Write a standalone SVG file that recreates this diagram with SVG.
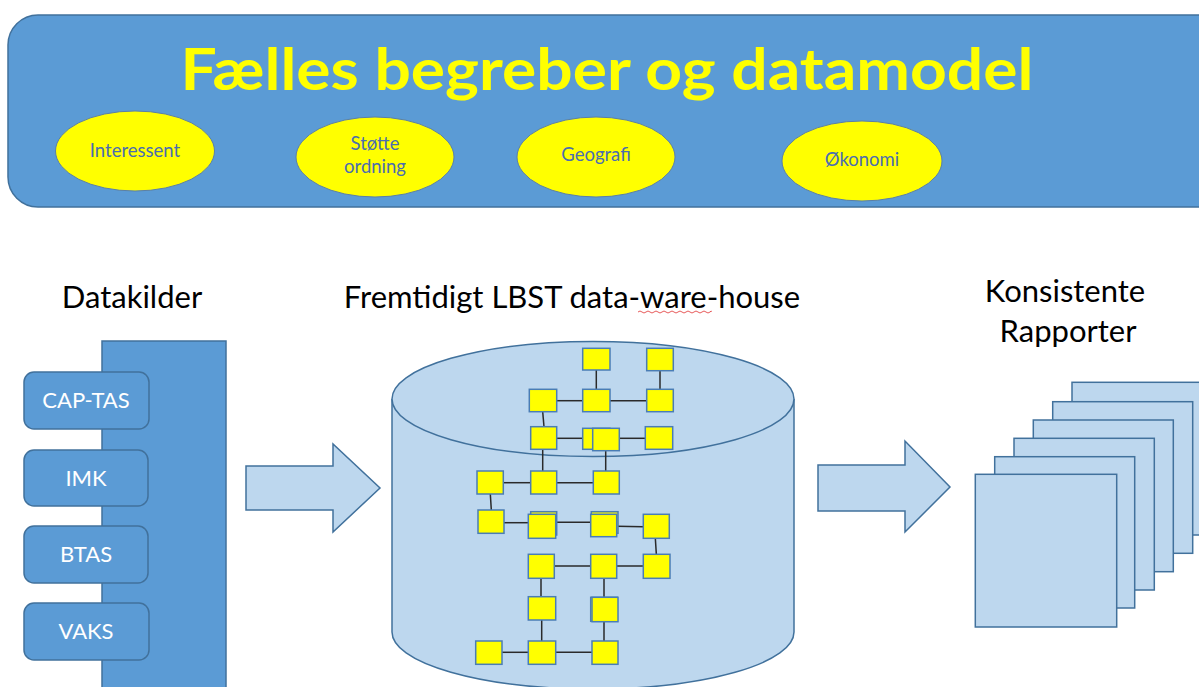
<svg xmlns="http://www.w3.org/2000/svg" width="1199" height="687" viewBox="0 0 1199 687">
<style>
.blue{fill:#5B9BD5;stroke:#41719C;stroke-width:1.5}
.light{fill:#BDD7EE;stroke:#41719C;stroke-width:1.5}
.ell{fill:#FFFF00;stroke:#5A7FA8;stroke-width:1}
.etxt{font-family:Lato,"Liberation Sans",sans-serif;font-size:18.5px;fill:#4A6DB0;text-anchor:middle}
.hdr{font-family:Lato,"Liberation Sans",sans-serif;font-size:31px;fill:#000;text-anchor:middle}
.src{font-family:Lato,"Liberation Sans",sans-serif;font-size:22px;fill:#fff;text-anchor:middle}
.sq{fill:#FFFF00;stroke:#4A7DB5;stroke-width:1.5}
.ln{stroke:#2a2a2a;stroke-width:1.5;fill:none}
</style>
<rect width="1199" height="687" fill="#fff"/>
<g id="banner">
<rect class="blue" x="8" y="15" width="1220" height="192" rx="30"/>
<text x="607" y="90" font-family="Lato,'Liberation Sans',sans-serif" font-size="58" font-weight="bold" fill="#FFFF00" text-anchor="middle" textLength="853" lengthAdjust="spacingAndGlyphs">Fælles begreber og datamodel</text>
</g>
<g id="interessent"><ellipse class="ell" cx="135" cy="151" rx="79.5" ry="40"/><text class="etxt" x="135" y="157">Interessent</text></g>
<g id="stotte"><ellipse class="ell" cx="375" cy="157" rx="79" ry="40"/><text class="etxt" x="375" y="150">Støtte</text><text class="etxt" x="375" y="173">ordning</text></g>
<g id="geografi"><ellipse class="ell" cx="596" cy="157" rx="79" ry="40"/><text class="etxt" x="596" y="161">Geografi</text></g>
<g id="okonomi"><ellipse class="ell" cx="862" cy="161" rx="80" ry="40"/><text class="etxt" x="862" y="166">Økonomi</text></g>

<g id="datakilder-label"><text class="hdr" x="132" y="308">Datakilder</text></g>
<g id="dwh-label"><text class="hdr" x="572" y="308">Fremtidigt LBST data-ware-house</text>
<path d="M638,312 q2,-2 4,0 t4,0 t4,0 t4,0 t4,0 t4,0 t4,0 t4,0 t4,0 t4,0 t4,0 t4,0 t4,0 t4,0 t4,0 t4,0 t4,0 t4,0 t1,0" fill="none" stroke="#E03030" stroke-width="0.8"/></g>
<g id="rapporter-label"><text class="hdr" x="1065" y="302">Konsistente</text><text class="hdr" x="1068" y="342">Rapporter</text></g>

<g id="datakilder">
<rect class="blue" x="102" y="341" width="124" height="350"/>
<g id="cap-tas"><rect class="blue" x="24" y="372" width="125" height="57" rx="10"/><text class="src" x="86" y="408">CAP-TAS</text></g>
<g id="imk"><rect class="blue" x="24" y="450" width="124" height="56" rx="10"/><text class="src" x="86" y="486">IMK</text></g>
<g id="btas"><rect class="blue" x="24" y="526" width="124" height="57" rx="10"/><text class="src" x="86" y="562">BTAS</text></g>
<g id="vaks"><rect class="blue" x="24" y="603" width="125" height="57" rx="10"/><text class="src" x="86" y="639">VAKS</text></g>
</g>

<g id="arrow1"><path class="light" d="M246,466 H333 V444 L380,488 L333,532 V510 H246 Z"/></g>
<g id="arrow2"><path class="light" d="M818,465 H905 V441 L950,487 L905,532 V511 H818 Z"/></g>

<g id="warehouse">
<path class="light" d="M392,399 V632 A201,57 0 0 0 794,632 V399"/>
<ellipse class="light" cx="593" cy="399" rx="201" ry="57.5"/>
</g>

<g id="connectors">
<line class="ln" x1="596.3" y1="370" x2="596.3" y2="389.3"/>
<line class="ln" x1="660" y1="370.7" x2="660" y2="389.3"/>
<line class="ln" x1="556.7" y1="400.7" x2="582.7" y2="400.7"/>
<line class="ln" x1="610" y1="400.7" x2="646.7" y2="400.7"/>
<line class="ln" x1="542.7" y1="411.7" x2="544" y2="426.7"/>
<line class="ln" x1="556.7" y1="438.3" x2="582.7" y2="438.3"/>
<line class="ln" x1="619.3" y1="438.3" x2="645.3" y2="438.3"/>
<line class="ln" x1="542.7" y1="449.3" x2="542.7" y2="471"/>
<line class="ln" x1="605.7" y1="450.7" x2="605.7" y2="471"/>
<line class="ln" x1="503.3" y1="482.7" x2="530.7" y2="482.7"/>
<line class="ln" x1="556.7" y1="482.7" x2="593.3" y2="482.7"/>
<line class="ln" x1="490.3" y1="494" x2="491.3" y2="510"/>
<line class="ln" x1="504" y1="522.7" x2="528.3" y2="522.7"/>
<line class="ln" x1="555.7" y1="522.3" x2="590.7" y2="522.3"/>
<line class="ln" x1="616.7" y1="526.3" x2="643.3" y2="526.7"/>
<line class="ln" x1="655.3" y1="538.3" x2="656.3" y2="554.3"/>
<line class="ln" x1="554.3" y1="566" x2="590.7" y2="566"/>
<line class="ln" x1="616.7" y1="566" x2="643.3" y2="566"/>
<line class="ln" x1="541" y1="578.3" x2="541" y2="596.7"/>
<line class="ln" x1="604" y1="578.3" x2="604" y2="597.3"/>
<line class="ln" x1="541.7" y1="620" x2="541.7" y2="641"/>
<line class="ln" x1="604" y1="621.7" x2="604" y2="641"/>
<line class="ln" x1="502" y1="652.3" x2="528.3" y2="652.3"/>
<line class="ln" x1="555.7" y1="652.3" x2="592" y2="652.3"/>
</g>

<g id="entities">
<rect class="sq" x="582.7" y="348.3" width="27.3" height="21.7"/>
<rect class="sq" x="646.7" y="348.3" width="26.6" height="22.4"/>
<rect class="sq" x="529.3" y="389.3" width="27.4" height="22.4"/>
<rect class="sq" x="582.7" y="389.3" width="27.3" height="22.4"/>
<rect class="sq" x="646.7" y="389.3" width="26.6" height="22.4"/>
<rect class="sq" x="530.7" y="426.7" width="26" height="22.6"/>
<rect class="sq" x="582.7" y="428.3" width="27.3" height="21"/>
<rect class="sq" x="592.7" y="428.3" width="26.6" height="22.4"/>
<rect class="sq" x="645.3" y="426.7" width="27.4" height="22.6"/>
<rect class="sq" x="477" y="471" width="26.3" height="23"/>
<rect class="sq" x="530.7" y="471" width="26" height="23"/>
<rect class="sq" x="593.3" y="471" width="26" height="23"/>
<rect class="sq" x="478" y="510" width="26" height="23.3"/>
<rect class="sq" x="530.7" y="511.7" width="26" height="23.3"/>
<rect class="sq" x="528.3" y="514.3" width="27.4" height="24"/>
<rect class="sq" x="591.3" y="511.7" width="26.7" height="21.6"/>
<rect class="sq" x="590.7" y="514.3" width="26" height="22.4"/>
<rect class="sq" x="643.3" y="514.3" width="26" height="24"/>
<rect class="sq" x="528.3" y="554.3" width="26" height="24"/>
<rect class="sq" x="590.7" y="554.3" width="26" height="24"/>
<rect class="sq" x="643.3" y="554.3" width="26.7" height="24"/>
<rect class="sq" x="528.3" y="596.7" width="27.4" height="23.3"/>
<rect class="sq" x="590.7" y="597.3" width="26.6" height="24"/>
<rect class="sq" x="592" y="597.3" width="26" height="24.4"/>
<rect class="sq" x="475.7" y="641" width="26.3" height="23.3"/>
<rect class="sq" x="528.3" y="641" width="27.4" height="23.3"/>
<rect class="sq" x="592" y="641" width="26" height="23.3"/>
</g>

<g id="rapporter">
<rect class="light" x="1072" y="382.3" width="141.5" height="152.7"/>
<rect class="light" x="1052.7" y="401.7" width="140" height="151.6"/>
<rect class="light" x="1033.3" y="420" width="140" height="151.7"/>
<rect class="light" x="1014" y="438.3" width="140.3" height="151.7"/>
<rect class="light" x="994.7" y="456.7" width="140" height="151.3"/>
<rect class="light" x="975.3" y="474.3" width="141.4" height="152.7"/>
</g>
</svg>
